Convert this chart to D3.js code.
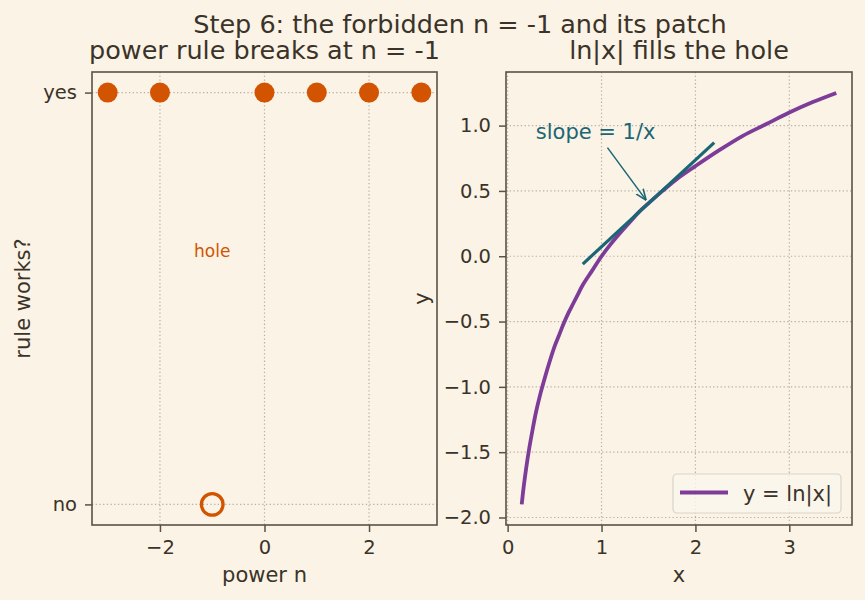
<!DOCTYPE html>
<html>
<head>
<meta charset="utf-8">
<script src="https://cdn.jsdelivr.net/npm/d3@7"></script>
<style>
    body { margin: 0; background: #faf3e6; }
    svg { display: block; font-family: "DejaVu Sans", sans-serif; }
</style>
</head>
<body>
<div id="chart"></div>
<script>
// Left panel data: power n and whether the rule works (1 = yes, 0 = no)
const powers = [-3, -2, 0, 1, 2, 3];
const powerWorks = [1, 1, 1, 1, 1, 1];
const holePower = [-1];
const holeWorks = [0];
const leftYTicks = [0, 1];
const leftYLabels = ["no", "yes"];
const leftXTicks = [-2, 0, 2];

// Right panel data: y = ln|x|
const curveX = [0.15, 0.17, 0.2, 0.23, 0.26, 0.3, 0.35, 0.4, 0.45, 0.5, 0.55, 0.6, 0.65, 0.7, 0.75, 0.8, 0.9, 1.0, 1.1, 1.2, 1.3, 1.4, 1.5, 1.65, 1.8, 2.0, 2.25, 2.5, 2.75, 3.0, 3.25, 3.5];
const curveY = [-1.90, -1.77, -1.61, -1.47, -1.35, -1.20, -1.05, -0.92, -0.80, -0.69, -0.60, -0.51, -0.43, -0.36, -0.29, -0.22, -0.11, 0.0, 0.095, 0.18, 0.26, 0.34, 0.405, 0.50, 0.59, 0.69, 0.81, 0.92, 1.01, 1.10, 1.18, 1.25];
const tangentX = [0.8, 2.2];
const tangentY = [-0.06, 0.87];
const rightXTicks = [0, 1, 2, 3];
const rightYTicks = [-2.0, -1.5, -1.0, -0.5, 0.0, 0.5, 1.0];

const bg = "#faf3e6";
const ink = "#3b3329";
const spine = "#5b5245";
const gridColor = "#b8b0a2";
const orange = "#d35400";
const purple = "#7d3c98";
const teal = "#1b6675";

const titleSize = 25.5, labelSize = 21, tickSize = 19.5;

const W = 865, H = 600;
const svg = d3.select("#chart").append("svg")
    .attr("width", W)
    .attr("height", H);
svg.append("rect").attr("width", W).attr("height", H).attr("fill", bg);

svg.append("defs").append("marker")
    .attr("id", "arrow")
    .attr("viewBox", "0 0 10 10")
    .attr("refX", 10).attr("refY", 5)
    .attr("markerWidth", 11).attr("markerHeight", 11)
    .attr("markerUnits", "userSpaceOnUse")
    .attr("orient", "auto")
    .append("path")
    .attr("d", "M0,1 L10,5 L0,9")
    .attr("fill", "none")
    .attr("stroke", teal)
    .attr("stroke-width", 1.5);

// Suptitle
svg.append("text")
    .text("Step 6: the forbidden n = -1 and its patch")
    .attr("x", 460).attr("y", 33)
    .attr("text-anchor", "middle")
    .attr("font-size", titleSize)
    .attr("fill", ink);

function panel(box, xDomain, yDomain) {
    let p = {};
    p.box = box;
    p.x = d3.scaleLinear().domain(xDomain).range([box.left, box.right]);
    p.y = d3.scaleLinear().domain(yDomain).range([box.bottom, box.top]);
    p.g = svg.append("g");
    p.grid = p.g.append("g");
    p.marks = p.g.append("g");
    return p;
}

function drawAxes(p, xTicks, yTicks, yFormat, xFormat) {
    let box = p.box;
    // grid
    p.grid.selectAll(".vg").data(xTicks).join("line")
        .attr("x1", d => p.x(d)).attr("x2", d => p.x(d))
        .attr("y1", box.top).attr("y2", box.bottom)
        .attr("stroke", gridColor).attr("stroke-width", 1.2)
        .attr("stroke-dasharray", "1.3,2.4");
    p.grid.selectAll(".hg").data(yTicks).join("line")
        .attr("y1", d => p.y(d)).attr("y2", d => p.y(d))
        .attr("x1", box.left).attr("x2", box.right)
        .attr("stroke", gridColor).attr("stroke-width", 1.2)
        .attr("stroke-dasharray", "1.3,2.4");

    let xAxis = d3.axisBottom(p.x).tickValues(xTicks).tickSize(7).tickPadding(8)
        .tickFormat(xFormat);
    let yAxis = d3.axisLeft(p.y).tickValues(yTicks).tickSize(7).tickPadding(8)
        .tickFormat(yFormat);
    let gx = svg.append("g").attr("transform", `translate(0,${box.bottom})`).call(xAxis);
    let gy = svg.append("g").attr("transform", `translate(${box.left},0)`).call(yAxis);
    [gx, gy].forEach(g => {
        g.select(".domain").remove();
        g.selectAll(".tick line").attr("stroke", spine).attr("stroke-width", 1.5);
        g.selectAll(".tick text").attr("fill", ink).attr("font-size", tickSize)
            .attr("font-family", "DejaVu Sans, sans-serif");
    });

    svg.append("rect")
        .attr("x", box.left).attr("y", box.top)
        .attr("width", box.right - box.left).attr("height", box.bottom - box.top)
        .attr("fill", "none").attr("stroke", spine).attr("stroke-width", 1.6);
}

const minus = d => String(d).replace("-", "\u2212");

// ---- Left panel ----
let left = panel({left: 92, right: 437, top: 72, bottom: 525}, [-3.3, 3.3], [-0.05, 1.05]);
drawAxes(left, leftXTicks, leftYTicks, d => leftYLabels[leftYTicks.indexOf(d)], d => minus(d));

left.marks.selectAll(".ok").data(powers).join("circle")
    .attr("cx", d => left.x(d))
    .attr("cy", (d, i) => left.y(powerWorks[i]))
    .attr("r", 10)
    .attr("fill", orange);

left.marks.selectAll(".hole").data(holePower).join("circle")
    .attr("cx", d => left.x(d))
    .attr("cy", (d, i) => left.y(holeWorks[i]))
    .attr("r", 10.8)
    .attr("fill", "none")
    .attr("stroke", orange)
    .attr("stroke-width", 3.3);

left.marks.append("text")
    .text("hole")
    .attr("x", left.x(-1)).attr("y", left.y(0.6))
    .attr("text-anchor", "middle")
    .attr("font-size", 17)
    .attr("fill", orange);

svg.append("text")
    .text("power rule breaks at n = -1")
    .attr("x", (92 + 437) / 2).attr("y", 59)
    .attr("text-anchor", "middle").attr("font-size", titleSize).attr("fill", ink);
svg.append("text")
    .text("power n")
    .attr("x", (92 + 437) / 2).attr("y", 582)
    .attr("text-anchor", "middle").attr("font-size", labelSize).attr("fill", ink);
svg.append("text")
    .text("rule works?")
    .attr("transform", `translate(30,${(72 + 525) / 2}) rotate(-90)`)
    .attr("text-anchor", "middle").attr("font-size", labelSize).attr("fill", ink);

// ---- Right panel ----
let right = panel({left: 506, right: 852, top: 72, bottom: 525}, [-0.0175, 3.6675], [-2.0575, 1.4103]);
drawAxes(right, rightXTicks, rightYTicks, d => minus(d3.format(".1f")(d)), d => d);

let curve = curveX.map((d, i) => [d, curveY[i]]);
right.marks.append("path")
    .datum(curve)
    .attr("fill", "none")
    .attr("stroke", purple)
    .attr("stroke-width", 3.8)
    .attr("d", d3.line()
        .x(d => right.x(d[0]))
        .y(d => right.y(d[1]))
        .curve(d3.curveCatmullRom.alpha(0.5)));

let tangent = tangentX.map((d, i) => [d, tangentY[i]]);
right.marks.append("path")
    .datum(tangent)
    .attr("fill", "none")
    .attr("stroke", teal)
    .attr("stroke-width", 3.2)
    .attr("d", d3.line()
        .x(d => right.x(d[0]))
        .y(d => right.y(d[1])));

// annotation
let label = right.marks.append("text")
    .text("slope = 1/x")
    .attr("x", right.x(0.3)).attr("y", right.y(0.9))
    .attr("font-size", labelSize)
    .attr("fill", teal);
let bb = label.node().getBBox();
let cx = bb.x + bb.width / 2, cy = bb.y + bb.height / 2;
let tx = right.x(1.5), ty = right.y(0.405);
let sy = cy + 16;
let t0 = (sy - cy) / (ty - cy);
let sx = cx + t0 * (tx - cx);
let len = Math.hypot(tx - sx, ty - sy);
let ex = tx - (tx - sx) / len * 4, ey = ty - (ty - sy) / len * 4;
right.marks.append("line")
    .attr("x1", sx).attr("y1", sy)
    .attr("x2", ex).attr("y2", ey)
    .attr("stroke", teal)
    .attr("stroke-width", 1.5)
    .attr("marker-end", "url(#arrow)");

// legend
let lg = svg.append("g").attr("transform", "translate(673,474)");
lg.append("rect")
    .attr("width", 168).attr("height", 39).attr("rx", 4)
    .attr("fill", "#fbf6ec").attr("fill-opacity", 0.8)
    .attr("stroke", "#d9d3c9").attr("stroke-width", 1.2);
lg.append("line")
    .attr("x1", 7).attr("x2", 55).attr("y1", 18.5).attr("y2", 18.5)
    .attr("stroke", purple).attr("stroke-width", 3.8);
lg.append("text")
    .text("y = ln|x|")
    .attr("x", 70).attr("y", 27)
    .attr("font-size", labelSize).attr("fill", ink);

svg.append("text")
    .text("ln|x| fills the hole")
    .attr("x", (506 + 852) / 2).attr("y", 59)
    .attr("text-anchor", "middle").attr("font-size", titleSize).attr("fill", ink);
svg.append("text")
    .text("x")
    .attr("x", (506 + 852) / 2).attr("y", 582)
    .attr("text-anchor", "middle").attr("font-size", labelSize).attr("fill", ink);
svg.append("text")
    .text("y")
    .attr("transform", `translate(429,${(72 + 525) / 2}) rotate(-90)`)
    .attr("text-anchor", "middle").attr("font-size", labelSize).attr("fill", ink);
</script>
</body>
</html>
